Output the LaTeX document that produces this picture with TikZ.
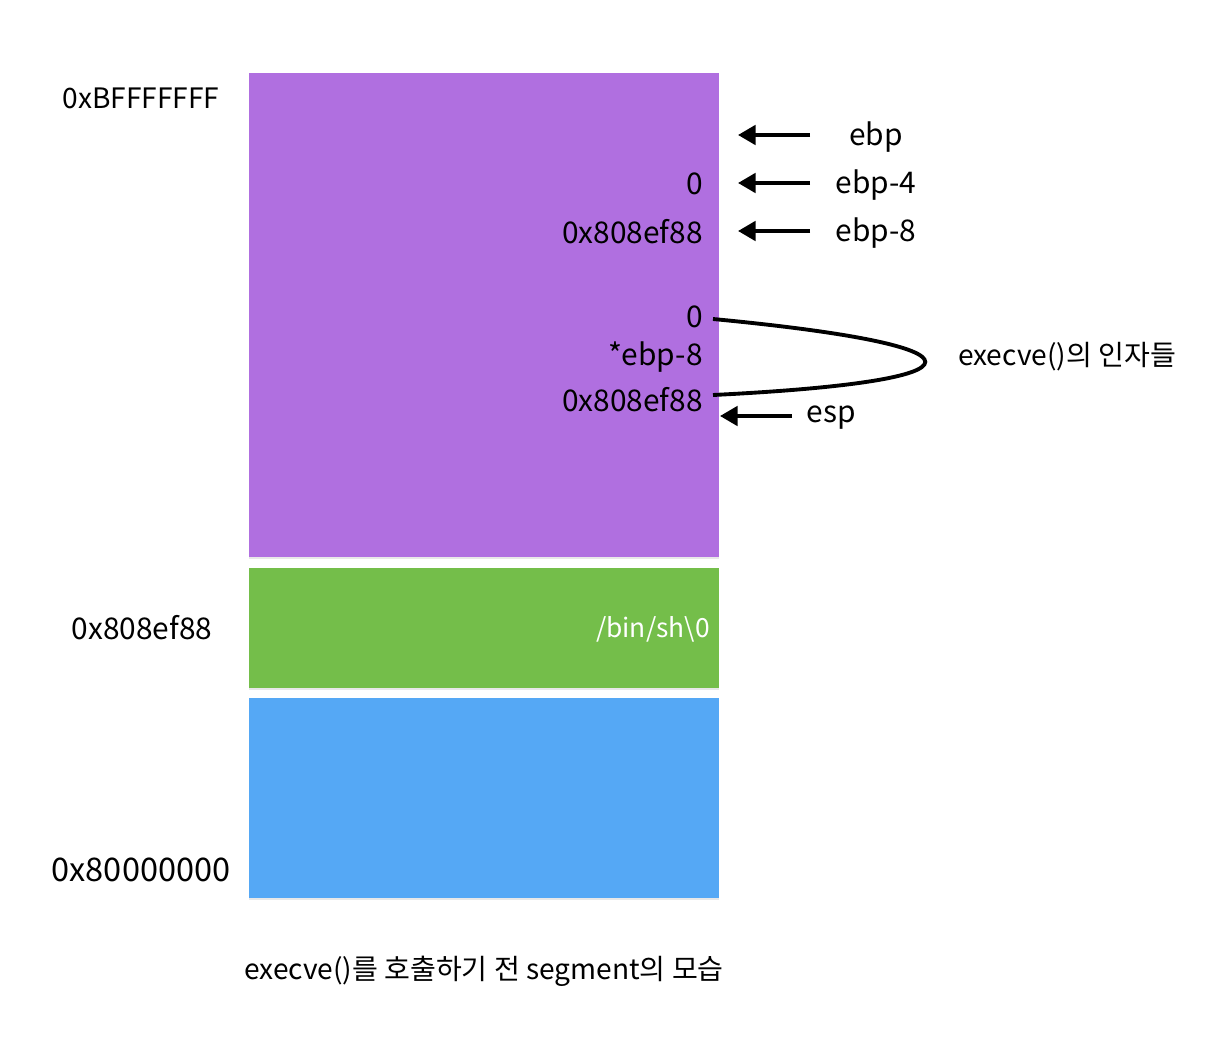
\documentclass[tikz,border=0pt]{standalone}
\usepackage{fontspec}
\setmainfont{Noto Sans CJK KR}
\usetikzlibrary{shadows,arrows.meta}
\definecolor{stackpurple}{RGB}{176,111,224}
\definecolor{datagreen}{RGB}{116,190,74}
\definecolor{codeblue}{RGB}{85,168,245}
\tikzset{
  seg/.style={draw=none, drop shadow={opacity=0.18, shadow xshift=0pt, shadow yshift=-1.2pt}},
  lbl/.style={font=\fontsize{17}{20}\selectfont, inner sep=0pt, text=black},
  rlbl/.style={lbl, anchor=east},
  ptr/.style={line width=2.2pt, -{Triangle[length=10pt,width=11pt]}},
}
\begin{document}
\begin{tikzpicture}[x=0.02cm,y=-0.02cm]
\useasboundingbox (0,0) rectangle (1222,1054);
\fill[white] (0,0) rectangle (1222,1054);
% segments
\fill[seg, stackpurple] (249,73) rectangle (719,557);
\fill[seg, datagreen] (249,568) rectangle (719,688);
\fill[seg, codeblue] (249,698) rectangle (719,898);
% left address labels
\node[lbl, font=\fontsize{16}{19}\selectfont] (aTop) at (141,98) {0xBFFFFFFF};
\node[lbl] (aData) at (142,628) {0x808ef88};
\node[lbl, font=\fontsize{18.5}{21}\selectfont] (aBot) at (141,870) {0x80000000};
% stack contents
\node[rlbl] (v0) at (703,184) {0};
\node[rlbl] (v1) at (703,232) {0x808ef88};
\node[rlbl] (v2) at (703,317) {0};
\node[rlbl] (v3) at (703,357) {*ebp-8};
\node[rlbl] (v4) at (703,400) {0x808ef88};
\node[rlbl, text=white, font=\fontsize{15}{18}\selectfont] (str) at (710,629) {/bin/sh\textbackslash 0};
% register labels
\node[lbl] (ebp) at (876,137) {ebp};
\node[lbl] (ebp4) at (876,185) {ebp-4};
\node[lbl] (ebp8) at (876,233) {ebp-8};
\node[lbl] (esp) at (831,418) {esp};
\node[lbl, font=\fontsize{16}{19}\selectfont] (args) at (1067,357) {execve()의 인자들};
\node[lbl, font=\fontsize{16}{19}\selectfont] (cap) at (484,971) {execve()를 호출하기 전 segment의 모습};
% pointer arrows
\coordinate (p0) at (738,135);
\coordinate (p1) at (738,183);
\coordinate (p2) at (738,231);
\coordinate (p3) at (720,416);
\coordinate (s0) at (810,135);
\coordinate (s1) at (810,183);
\coordinate (s2) at (810,231);
\coordinate (s3) at (792,416);
\draw[ptr] (s0) -- (p0);
\draw[ptr] (s1) -- (p1);
\draw[ptr] (s2) -- (p2);
\draw[ptr] (s3) -- (p3);
% bracket curve
\coordinate (c0) at (713,319);
\coordinate (c1) at (713,395);
\draw[line width=2.2pt] (c0) .. controls (996,346) and (996,381) .. (c1);
\end{tikzpicture}
\end{document}
